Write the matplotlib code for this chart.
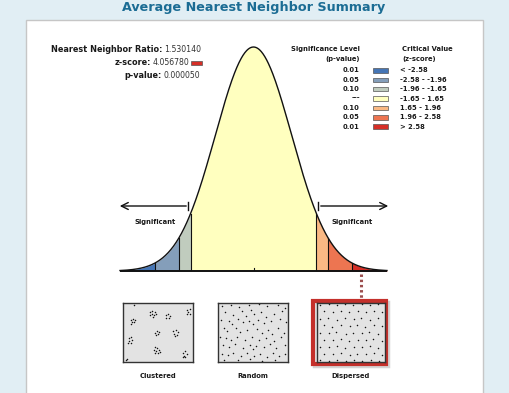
import numpy as np
import matplotlib
matplotlib.use("Agg")
import matplotlib.pyplot as plt
from matplotlib.patches import Rectangle

# ---------------- data ----------------
title = "Average Nearest Neighbor Summary"
stat_labels = ["Nearest Neighbor Ratio:", "z-score:", "p-value:"]
stat_values = ["1.530140", "4.056780", "0.000050"]

z_bounds = [-3.5, -2.58, -1.96, -1.65, 1.65, 1.96, 2.58, 3.5]
zone_colors = ["#4575b5", "#849eba", "#c0ccbe", "#ffffbf", "#fab984", "#ed7551", "#d62f27"]
p_levels = ["0.01", "0.05", "0.10", "---", "0.10", "0.05", "0.01"]
z_ranges = ["< -2.58", "-2.58 - -1.96", "-1.96 - -1.65", "-1.65 - 1.65",
            "1.65 - 1.96", "1.96 - 2.58", "> 2.58"]
pattern_names = ["Clustered", "Random", "Dispersed"]

clustered_pts = [
    (0.11, 0.28), (0.14, 0.27), (0.17, 0.29), (0.13, 0.32), (0.16, 0.33), (0.12, 0.35),
    (0.39, 0.15), (0.42, 0.13), (0.45, 0.15), (0.41, 0.19), (0.44, 0.20), (0.47, 0.18), (0.38, 0.21), (0.43, 0.23),
    (0.61, 0.21), (0.64, 0.19), (0.67, 0.22), (0.62, 0.25), (0.66, 0.26),
    (0.92, 0.12), (0.95, 0.10), (0.93, 0.16), (0.96, 0.18), (0.91, 0.19),
    (0.45, 0.50), (0.48, 0.47), (0.51, 0.49), (0.47, 0.54), (0.50, 0.53),
    (0.72, 0.47), (0.75, 0.45), (0.78, 0.49), (0.73, 0.52), (0.77, 0.54), (0.74, 0.56),
    (0.08, 0.59), (0.11, 0.58), (0.13, 0.62), (0.09, 0.65), (0.12, 0.67), (0.07, 0.68),
    (0.46, 0.74), (0.49, 0.76), (0.44, 0.79), (0.47, 0.81), (0.51, 0.80), (0.45, 0.84), (0.50, 0.85), (0.53, 0.83),
    (0.86, 0.84), (0.89, 0.82), (0.91, 0.86), (0.87, 0.89), (0.85, 0.92), (0.89, 0.91),
    (0.04, 0.97), (0.06, 0.95), (0.16, 0.03),
]
random_pts = [
    (0.05, 0.05), (0.18, 0.03), (0.30, 0.06), (0.44, 0.04), (0.58, 0.02), (0.70, 0.05), (0.86, 0.03), (0.96, 0.08),
    (0.10, 0.15), (0.22, 0.20), (0.34, 0.14), (0.40, 0.22), (0.47, 0.12), (0.52, 0.19), (0.62, 0.16), (0.68, 0.24), (0.80, 0.18), (0.91, 0.14),
    (0.04, 0.28), (0.15, 0.30), (0.20, 0.35), (0.28, 0.27), (0.36, 0.33), (0.44, 0.30), (0.50, 0.36), (0.57, 0.28), (0.66, 0.34), (0.75, 0.30), (0.88, 0.27), (0.97, 0.33),
    (0.08, 0.42), (0.13, 0.47), (0.25, 0.43), (0.31, 0.49), (0.42, 0.45), (0.55, 0.44), (0.63, 0.50), (0.72, 0.46), (0.77, 0.52), (0.85, 0.42), (0.94, 0.50),
    (0.03, 0.58), (0.11, 0.60), (0.19, 0.62), (0.27, 0.58), (0.38, 0.63), (0.48, 0.57), (0.59, 0.62), (0.69, 0.60), (0.80, 0.64), (0.90, 0.58),
    (0.07, 0.72), (0.16, 0.75), (0.24, 0.70), (0.35, 0.77), (0.45, 0.71), (0.50, 0.78), (0.54, 0.73), (0.65, 0.75), (0.74, 0.70), (0.83, 0.77), (0.96, 0.72),
    (0.05, 0.86), (0.14, 0.88), (0.22, 0.84), (0.33, 0.90), (0.41, 0.85), (0.52, 0.89), (0.60, 0.86), (0.70, 0.92), (0.78, 0.85), (0.87, 0.90), (0.95, 0.86),
    (0.09, 0.96), (0.28, 0.97), (0.46, 0.95), (0.63, 0.98), (0.82, 0.97),
]
dispersed_pts = [
    (0.04, 0.03), (0.17, 0.02), (0.29, 0.04), (0.41, 0.02), (0.53, 0.03), (0.66, 0.02), (0.78, 0.04), (0.90, 0.02),
    (0.10, 0.14), (0.23, 0.16), (0.35, 0.13), (0.47, 0.15), (0.60, 0.14), (0.72, 0.16), (0.84, 0.13), (0.95, 0.15),
    (0.05, 0.27), (0.16, 0.25), (0.29, 0.28), (0.41, 0.26), (0.54, 0.27), (0.65, 0.25), (0.78, 0.28), (0.90, 0.26),
    (0.11, 0.38), (0.22, 0.40), (0.35, 0.37), (0.48, 0.39), (0.59, 0.38), (0.71, 0.40), (0.84, 0.37), (0.96, 0.39),
    (0.04, 0.50), (0.17, 0.51), (0.28, 0.49), (0.42, 0.52), (0.53, 0.50), (0.66, 0.51), (0.77, 0.49), (0.90, 0.52),
    (0.10, 0.62), (0.23, 0.63), (0.36, 0.61), (0.47, 0.64), (0.60, 0.62), (0.72, 0.63), (0.83, 0.61), (0.95, 0.64),
    (0.05, 0.74), (0.17, 0.75), (0.30, 0.73), (0.41, 0.76), (0.54, 0.74), (0.66, 0.75), (0.78, 0.73), (0.89, 0.76),
    (0.11, 0.86), (0.23, 0.87), (0.35, 0.85), (0.48, 0.88), (0.59, 0.86), (0.72, 0.87), (0.84, 0.85), (0.95, 0.88),
    (0.04, 0.97), (0.17, 0.98), (0.30, 0.97), (0.42, 0.98), (0.54, 0.97), (0.66, 0.98), (0.79, 0.97), (0.91, 0.98),
]
pattern_points = [clustered_pts, random_pts, dispersed_pts]

# ---------------- figure ----------------
W, H = 509, 393
fig = plt.figure(figsize=(W / 100, H / 100), dpi=100)
fig.patch.set_facecolor("#e1eef4")
plt.rcParams["font.family"] = ["DejaVu Sans"]

def fbox(x0, y0, x1, y1):
    """pixel box (top-left origin) -> figure fraction rect"""
    return [x0 / W, 1 - y1 / H, (x1 - x0) / W, (y1 - y0) / H]

# overlay axes in pixel coords for layout
ov = fig.add_axes([0, 0, 1, 1])
ov.set_xlim(0, W)
ov.set_ylim(H, 0)
ov.axis("off")
ov.patch.set_alpha(0)

ov.add_patch(Rectangle((26.5, 20), 456.5, 380, facecolor="white", edgecolor="#c6c6c6", lw=1.0, zorder=0))
ov.text(254, 11, title, ha="center", va="baseline", fontsize=9.2, fontweight="bold", color="#1b6c94")

# stats block
stat_right = [162, 151, 162]
for i, (lab, val) in enumerate(zip(stat_labels, stat_values)):
    y = 49 + i * 13.5
    ov.text(stat_right[i], y, lab, ha="right", va="center", fontsize=5.85, fontweight="bold", color="#1a1a1a")
    ov.text(stat_right[i] + 2, y, val, ha="left", va="center", fontsize=5.6, color="#333333")
ov.add_patch(Rectangle((191, 60.5), 11, 4.5, facecolor=zone_colors[-1], edgecolor="#555555", lw=0.5))

# legend
ov.text(360, 49, "Significance Level", ha="right", va="center", fontsize=4.9, fontweight="bold", color="#1a1a1a")
ov.text(360, 59, "(p-value)", ha="right", va="center", fontsize=4.9, fontweight="bold", color="#1a1a1a")
ov.text(402, 49, "Critical Value", ha="left", va="center", fontsize=4.9, fontweight="bold", color="#1a1a1a")
ov.text(402, 59, "(z-score)", ha="left", va="center", fontsize=4.9, fontweight="bold", color="#1a1a1a")
for i, (p, c, r) in enumerate(zip(p_levels, zone_colors, z_ranges)):
    y = 70.5 + i * 9.35
    ov.text(360, y, p, ha="right", va="center", fontsize=4.9, fontweight="bold", color="#1a1a1a")
    ov.add_patch(Rectangle((373, y - 2.3), 15, 4.6, facecolor=c, edgecolor="#555555", lw=0.5))
    ov.text(400, y, r, ha="left", va="center", fontsize=4.9, fontweight="bold", color="#1a1a1a")

# curve axes
curve = fig.add_axes(fbox(120, 47, 387, 271))
zmin, zmax = z_bounds[0], z_bounds[-1]
pdf = lambda z: np.exp(-0.5 * np.asarray(z) ** 2) / np.sqrt(2 * np.pi)
curve.set_xlim(zmin, zmax)
curve.set_ylim(0, pdf(0))
curve.axis("off")
curve.patch.set_alpha(0)
for a, b, c in zip(z_bounds[:-1], z_bounds[1:], zone_colors):
    zz = np.linspace(a, b, 200)
    curve.fill_between(zz, 0, pdf(zz), color=c, lw=0)
for b in z_bounds[1:-1]:
    curve.plot([b, b], [0, pdf(b)], color="#111111", lw=0.8)
zz = np.linspace(zmin, zmax, 600)
curve.plot(zz, pdf(zz), color="#111111", lw=1.0, clip_on=False)
curve.plot([zmin, zmax], [0, 0], color="#111111", lw=1.4, clip_on=False, solid_capstyle="butt")
curve.plot([0, 0], [0, 0.006], color="#111111", lw=0.8)

# arrows and labels
ov.annotate("", xy=(117, 206), xytext=(189, 206),
            arrowprops=dict(arrowstyle="->,head_length=0.5,head_width=0.25", color="#111111", lw=1.0))
ov.plot([188.5, 188.5], [202, 210], color="#111111", lw=1.0)
ov.annotate("", xy=(391, 206), xytext=(318, 206),
            arrowprops=dict(arrowstyle="->,head_length=0.5,head_width=0.25", color="#111111", lw=1.0))
ov.plot([318.5, 318.5], [202, 210], color="#111111", lw=1.0)
ov.text(155, 222, "Significant", ha="center", va="center", fontsize=4.9, fontweight="bold", color="#1a1a1a")
ov.text(352, 222, "Significant", ha="center", va="center", fontsize=4.9, fontweight="bold", color="#1a1a1a")
ov.text(253, 207, "(Random)", ha="center", va="center", fontsize=4.9, fontweight="bold", color="#1a1a1a")

# dotted connector
ov.plot([361, 361], [274, 298], color="#9c4e4e", lw=2.2, linestyle=(0, (0.8, 0.9)))

# pattern boxes
box_px = [(123, 303, 193, 362), (218, 303, 288, 362), (317, 303, 385, 362)]
label_x = [158, 253, 351]
for k, (name, pts, bx) in enumerate(zip(pattern_names, pattern_points, box_px)):
    if k == 2:
        ov.add_patch(Rectangle((314.5, 302), 74, 64, facecolor="none", edgecolor="#d4d4d4", lw=2.5, zorder=1))
        ov.add_patch(Rectangle((313.5, 300.5), 73, 63, facecolor="#e3e3e3", edgecolor="#c4302b", lw=3.0, zorder=2))
    bax = fig.add_axes(fbox(*bx))
    bax.set_xlim(0, 1)
    bax.set_ylim(1, 0)
    bax.set_xticks([])
    bax.set_yticks([])
    bax.set_facecolor("#e3e3e3")
    for s in bax.spines.values():
        s.set_color("#333333")
        s.set_linewidth(1.0)
    u = [p[0] for p in pts]
    v = [p[1] for p in pts]
    bax.scatter(u, v, s=1.2, color="#111111", linewidths=0)
    ov.text(label_x[k], 376, name, ha="center", va="center", fontsize=4.9, fontweight="bold", color="#1a1a1a")

fig.savefig("out.png", dpi=100, facecolor=fig.get_facecolor())
